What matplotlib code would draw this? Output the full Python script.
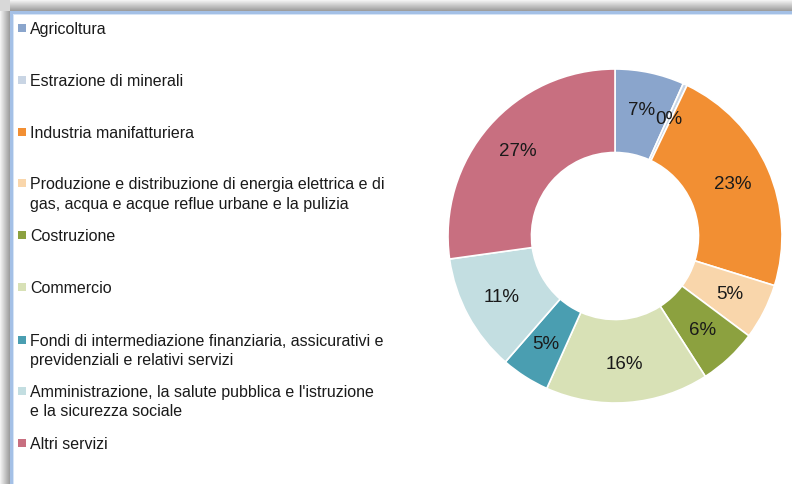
import matplotlib
matplotlib.use("Agg")
import matplotlib.pyplot as plt
import numpy as np
from matplotlib.patches import Rectangle

plt.rcParams['font.family'] = ['Liberation Sans', 'DejaVu Sans']

categories = [
    "Agricoltura",
    "Estrazione di minerali",
    "Industria manifatturiera",
    "Produzione e distribuzione di energia elettrica e di\ngas, acqua e acque reflue urbane e la pulizia",
    "Costruzione",
    "Commercio",
    "Fondi di intermediazione finanziaria, assicurativi e\nprevidenziali e relativi servizi",
    "Amministrazione, la salute pubblica e l'istruzione\ne la sicurezza sociale",
    "Altri servizi",
]
values = [6.7, 0.4, 22.7, 5.4, 5.7, 15.8, 4.7, 11.4, 27.2]
colors = ["#8AA5CC", "#C9D5E4", "#F28F33", "#F9D6AB", "#8CA13F",
          "#D8E1B6", "#4A9EB1", "#C3DEE1", "#C86F80"]

W, H = 792, 484
fig = plt.figure(figsize=(W / 100, H / 100), dpi=100)
fig.patch.set_facecolor("white")

# background / frame axes in pixel coordinates
bg = fig.add_axes([0, 0, 1, 1], zorder=0)
bg.set_xlim(0, W)
bg.set_ylim(H, 0)
bg.axis("off")

# shadow gradients
top_grad = np.linspace(0.95, 0.62, 11).reshape(-1, 1)
bg.imshow(np.repeat(top_grad, 2, axis=1), cmap="gray", vmin=0, vmax=1,
          extent=(0, W, 11, 0), aspect="auto", interpolation="bilinear", zorder=1)
left_grad = np.linspace(0.95, 0.62, 10).reshape(1, -1)
bg.imshow(np.repeat(left_grad, 2, axis=0), cmap="gray", vmin=0, vmax=1,
          extent=(0, 10, H, 0), aspect="auto", interpolation="bilinear", zorder=1)
bg.add_patch(Rectangle((0, 0), 10, 11, facecolor="#d8d8d8", edgecolor="none", zorder=1.5))
# blue frame lines
bg.add_patch(Rectangle((10, 11), W - 10, 2.5, facecolor="#A4C0E6", edgecolor="none", zorder=2))
bg.add_patch(Rectangle((10, 11), 2.5, H - 11, facecolor="#A4C0E6", edgecolor="none", zorder=2))
bg.add_patch(Rectangle((12.5, 13.5), W - 12.5, 1.5, facecolor="#D6E4F5", edgecolor="none", zorder=2))
bg.add_patch(Rectangle((12.5, 13.5), 1.5, H - 13.5, facecolor="#D6E4F5", edgecolor="none", zorder=2))
bg.set_xlim(0, W)
bg.set_ylim(H, 0)

# legend (manual)
baselines = [34, 86, 138, 189, 241, 293, 346, 397, 449]
line_step = 19.5
for lab, col, yb in zip(categories, colors, baselines):
    bg.add_patch(Rectangle((18, yb - 10), 7.5, 7.5, facecolor=col, edgecolor="none", zorder=3))
    for i, line in enumerate(lab.split("\n")):
        bg.text(30, yb + i * line_step, line, fontsize=11.5, color="#1a1a1a",
                va="baseline", ha="left", zorder=3)

# donut
cx, cy, R = 615, 236, 167
ax = fig.add_axes([(cx - R) / W, (H - cy - R) / H, 2 * R / W, 2 * R / H], zorder=1)
ax.set_facecolor("none")
wedges, texts, autotexts = ax.pie(
    values, colors=colors, startangle=90, counterclock=False, radius=1.0,
    wedgeprops=dict(width=0.5, edgecolor="white", linewidth=1.2),
    autopct=lambda p: f"{p:.0f}%", pctdistance=0.77,
    textprops=dict(fontsize=13.5, color="#1a1a1a"))
ax.set_xlim(-1, 1)
ax.set_ylim(-1, 1)
ax.set_aspect("equal")
ax.axis("off")

fig.savefig("out.png", dpi=100)
